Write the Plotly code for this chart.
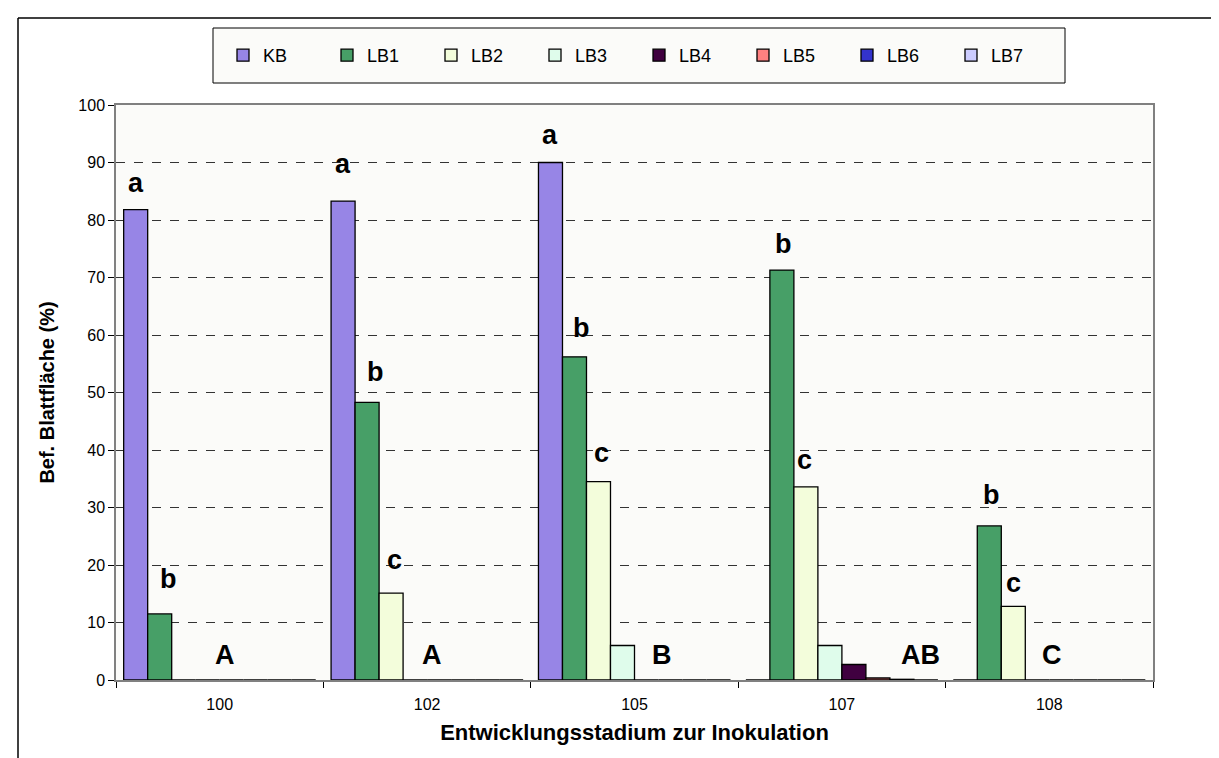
import plotly.graph_objects as go

categories = ["100", "102", "105", "107", "108"]
series_names = ["KB", "LB1", "LB2", "LB3", "LB4", "LB5", "LB6", "LB7"]
KB = [81.8, 83.3, 90.0, 0, 0]
LB1 = [11.5, 48.3, 56.2, 71.3, 26.8]
LB2 = [0, 15.1, 34.5, 33.6, 12.8]
LB3 = [0, 0, 6.0, 6.0, 0]
LB4 = [0, 0, 0, 2.7, 0]
LB5 = [0, 0, 0, 0.35, 0]
LB6 = [0, 0, 0, 0.12, 0]
LB7 = [0, 0, 0, 0, 0]
series_values = [KB, LB1, LB2, LB3, LB4, LB5, LB6, LB7]
colors = ["#9785E6", "#479F67", "#F3FDDB", "#DFFCEB", "#400040", "#FF8080", "#3333CC", "#CCCCFF"]

# letter labels: (group index, series index, text, y value of text centre, x pixel shift)
lower_labels = [
    (0, 0, "a", 86.4, 0), (0, 1, "b", 17.6, 9),
    (1, 0, "a", 89.8, 0), (1, 1, "b", 53.6, 8), (1, 2, "c", 20.9, 3),
    (2, 0, "a", 94.8, 0), (2, 1, "b", 61.2, 7), (2, 2, "c", 39.5, 3),
    (3, 1, "b", 75.8, 2), (3, 2, "c", 38.3, -1),
    (4, 1, "b", 32.2, 2), (4, 2, "c", 16.8, 0),
]
upper_labels = [(0.027, "A"), (1.025, "A"), (2.133, "B"), (3.381, "AB"), (4.014, "C")]
upper_y = 4.4

FONT = "Arial, Liberation Sans, sans-serif"
bargap = 0.074
nser = len(series_names)
bw = (1 - bargap) / nser

fig = go.Figure()
for name, vals, col in zip(series_names, series_values, colors):
    fig.add_trace(go.Bar(name=name, x=list(range(len(categories))), y=vals,
                         marker=dict(color=col, line=dict(color="black", width=1.3))))

for g, s, t, yv, dx in lower_labels:
    fig.add_annotation(x=g + (s - (nser - 1) / 2) * bw, y=yv, text="<b>%s</b>" % t,
                       showarrow=False, xshift=dx, font=dict(family=FONT, size=27, color="black"),
                       xanchor="center", yanchor="middle")
for xp, t in upper_labels:
    fig.add_annotation(x=xp, y=upper_y, text="<b>%s</b>" % t, showarrow=False,
                       font=dict(family=FONT, size=27, color="black"),
                       xanchor="center", yanchor="middle")

W, H = 1219, 758
L, R, T, B = 108, 74, 97, 86
pw, ph = W - L - R, H - T - B

def px_x(p):
    return (p - L) / pw

def px_y(p):
    return (H - B - p) / ph

# outer chart border (left and top)
fig.add_shape(type="line", xref="paper", yref="paper", x0=px_x(10), x1=px_x(10), y0=px_y(10), y1=px_y(H + 5),
              line=dict(color="black", width=1.5))
fig.add_shape(type="line", xref="paper", yref="paper", x0=px_x(10), x1=px_x(W + 5), y0=px_y(10), y1=px_y(10),
              line=dict(color="black", width=1.5))
# legend frame
fig.add_shape(type="rect", xref="paper", yref="paper", x0=px_x(205), x1=px_x(1057), y0=px_y(20), y1=px_y(75),
              line=dict(color="black", width=1), fillcolor="#FBFBF9", layer="below")

fig.update_layout(
    width=W, height=H,
    margin=dict(l=L, r=R, t=T, b=B),
    paper_bgcolor="white", plot_bgcolor="#FBFBF9",
    barmode="group", bargap=bargap, bargroupgap=0,
    font=dict(family=FONT, color="black"),
    showlegend=True,
    legend=dict(orientation="h", xanchor="center", x=px_x(631), yanchor="middle", y=px_y(47.5),
                bgcolor="rgba(0,0,0,0)", borderwidth=0,
                font=dict(family=FONT, size=18, color="black"),
                entrywidth=59, entrywidthmode="pixels", itemwidth=30, traceorder="normal"),
)
fig.update_xaxes(type="linear", range=[-0.5, 4.5], tickmode="array",
                 tickvals=list(range(len(categories))), ticktext=categories,
                 showgrid=False, showline=True, linecolor="#808080", linewidth=1.5, mirror=True,
                 ticks="", tickfont=dict(family=FONT, size=16, color="black"),
                 ticklabelstandoff=9,
                 title=dict(text="<b>Entwicklungsstadium zur Inokulation</b>",
                            font=dict(family=FONT, size=22, color="black"), standoff=13),
                 zeroline=False)
fig.update_xaxes(minor=dict(tickmode="array", tickvals=[i + 0.5 for i in range(-1, len(categories))],
                            ticks="outside", ticklen=6, tickcolor="black", showgrid=False))
fig.update_yaxes(range=[0, 100], dtick=10, showgrid=True, gridcolor="#333333", griddash="dash",
                 gridwidth=1, showline=True, linecolor="#808080", linewidth=1.5, mirror=True,
                 ticks="outside", ticklen=6, tickcolor="black",
                 tickfont=dict(family=FONT, size=16, color="black"),
                 title=dict(text="<b>Bef. Blattfläche (%)</b>", font=dict(family=FONT, size=20, color="black"),
                            standoff=18),
                 zeroline=False)

fig.write_html("out.html")
